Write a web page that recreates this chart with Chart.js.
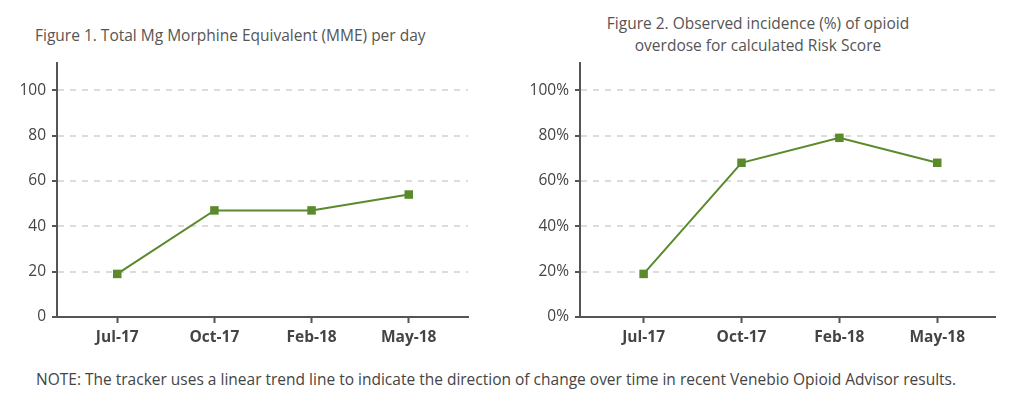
<!DOCTYPE html>
<html>
<head>
<meta charset="utf-8">
<script src="https://cdn.jsdelivr.net/npm/chart.js@4"></script>
<style>
  body { margin: 0; background: #fff; font-family: "Open Sans", sans-serif; }
  #wrap { position: relative; width: 1024px; height: 396px; overflow: hidden; }
  .box { position: absolute; top: 0; height: 356px; }
  .title { position: absolute; color: #555; font-size: 15.5px; line-height: 22px; white-space: nowrap; }
  #note { position: absolute; left: 36px; top: 368px; color: #444; font-size: 15.5px; white-space: nowrap; }
</style>
</head>
<body>
<div id="wrap">
  <div class="title" style="left:35px; top:24px;">Figure 1. Total Mg Morphine Equivalent (MME) per day</div>
  <div class="title" style="left:558px; width:400px; top:12px; text-align:center;">Figure 2. Observed incidence (%) of opioid<br>overdose for calculated Risk Score</div>
  <div class="box" style="left:0; width:500px;"><canvas id="mmeChart"></canvas></div>
  <div class="box" style="left:510px; width:514px;"><canvas id="riskChart"></canvas></div>
  <div id="note">NOTE: The tracker uses a linear trend line to indicate the direction of change over time in recent Venebio Opioid Advisor results.</div>
</div>
<script>
// data
const months = ["Jul-17", "Oct-17", "Feb-18", "May-18"];
const mmeValues = [19, 47, 47, 54];
const riskValues = [19, 68, 79, 68];
const yTicks = [0, 20, 40, 60, 80, 100];

const green = "#5a8a2b";
const axisColor = "#555";

function makeChart(id, values, opts) {
    const ctx = document.getElementById(id).getContext("2d");
    return new Chart(ctx, {
        type: "line",
        data: {
            datasets: [{
                data: values.map((v, i) => ({ x: i, y: v })),
                borderColor: green,
                backgroundColor: green,
                borderWidth: 2,
                pointStyle: "rect",
                pointRadius: 6,
                pointBorderWidth: 0,
                tension: 0
            }]
        },
        options: {
            responsive: true,
            maintainAspectRatio: false,
            animation: false,
            layout: { padding: opts.padding },
            plugins: { legend: { display: false }, tooltip: { enabled: false } },
            scales: {
                x: {
                    type: "linear",
                    min: opts.xMin,
                    max: opts.xMax,
                    afterFit: (scale) => { scale.height = 39; },
                    afterBuildTicks: (scale) => { scale.ticks = months.map((m, i) => ({ value: i })); },
                    ticks: {
                        includeBounds: false,
                        padding: 5,
                        color: "#444",
                        font: { family: "Open Sans", size: 15.5, weight: "bold" },
                        callback: (v) => months[v]
                    },
                    grid: { drawOnChartArea: false, drawTicks: true, tickLength: 6, tickColor: axisColor, tickWidth: 2 },
                    border: { display: true, color: axisColor, width: 2 }
                },
                y: {
                    min: 0,
                    max: 112,
                    afterFit: (scale) => { scale.width = opts.yWidth; },
                    afterBuildTicks: (scale) => { scale.ticks = yTicks.map((v) => ({ value: v })); },
                    ticks: {
                        includeBounds: false,
                        padding: 6,
                        color: "#444",
                        font: { family: "Open Sans", size: 15.5 },
                        callback: opts.yLabel
                    },
                    grid: {
                        color: (c) => c.tick && c.tick.value === 0 ? "rgba(0,0,0,0)" : "#dcdcdc",
                        lineWidth: 2,
                        tickLength: 5,
                        tickColor: axisColor,
                        tickWidth: 2
                    },
                    border: { display: true, color: axisColor, width: 2, dash: [6, 6] }
                }
            }
        }
    });
}

makeChart("mmeChart", mmeValues, {
    padding: { left: 7, right: 32, top: 63, bottom: 0 },
    yWidth: 50,
    xMin: -0.62,
    xMax: 3.61,
    yLabel: (v) => v
});

makeChart("riskChart", riskValues, {
    padding: { left: 10, right: 29, top: 63, bottom: 0 },
    yWidth: 60,
    xMin: -0.65,
    xMax: 3.59,
    yLabel: (v) => v + "%"
});
</script>
</body>
</html>
